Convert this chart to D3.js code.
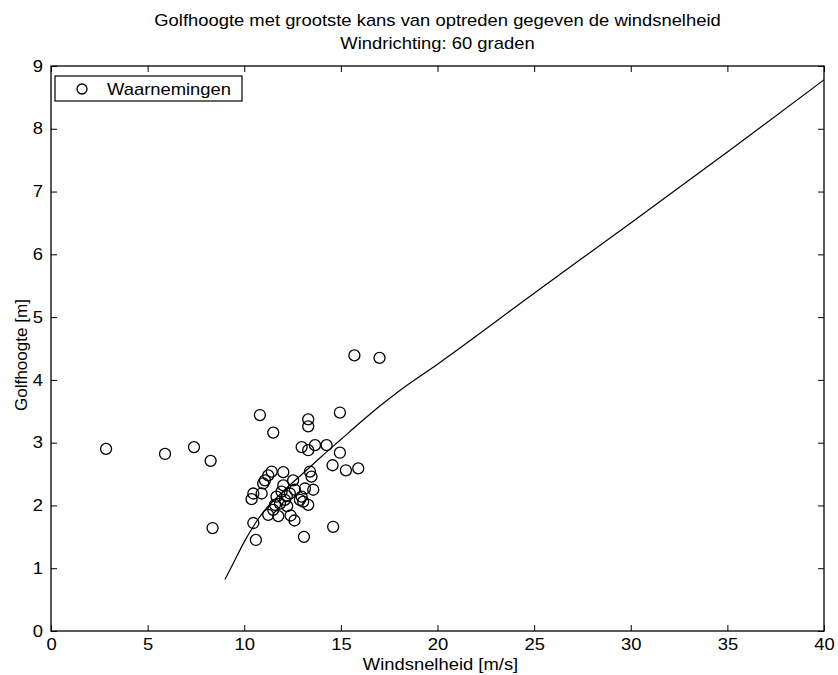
<!DOCTYPE html>
<html>
<head>
<meta charset="utf-8">
<script src="https://cdn.jsdelivr.net/npm/d3@7/dist/d3.min.js"></script>
<style>
  body { margin: 0; background: #fff; }
  svg { display: block; }
  text { font-family: "Liberation Sans", Arial, Helvetica, sans-serif; fill: #000; }
</style>
</head>
<body>
<svg id="chart" width="838" height="675"></svg>
<script>
// ---- data ----
const titleLines = ["Golfhoogte met grootste kans van optreden gegeven de windsnelheid", "Windrichting: 60 graden"];
const xLabel = "Windsnelheid [m/s]";
const yLabel = "Golfhoogte [m]";
const legendLabel = "Waarnemingen";
const xTicks = [0, 5, 10, 15, 20, 25, 30, 35, 40];
const yTicks = [0, 1, 2, 3, 4, 5, 6, 7, 8, 9];

// observations: [wind speed, wave height]
const observations = [
  [2.85, 2.90], [5.9, 2.82], [7.4, 2.93], [8.26, 2.71], [8.36, 1.64],
  [10.81, 3.44], [13.31, 3.37], [13.31, 3.26], [14.95, 3.48], [11.5, 3.16],
  [15.7, 4.39], [17.0, 4.35],
  [12.97, 2.93], [13.31, 2.88], [13.66, 2.96], [14.26, 2.96], [14.95, 2.84],
  [14.57, 2.64], [15.26, 2.56], [15.9, 2.59],
  [13.4, 2.54], [13.48, 2.46], [13.57, 2.25], [13.14, 2.27], [12.53, 2.40],
  [12.62, 2.25], [12.97, 2.14], [13.05, 2.06], [13.31, 2.01], [12.36, 2.19],
  [12.02, 2.53], [11.42, 2.54], [11.24, 2.48], [11.07, 2.40], [10.98, 2.35],
  [10.47, 2.19], [10.38, 2.10], [10.9, 2.19], [12.02, 2.32], [11.67, 2.14],
  [11.93, 2.22], [12.1, 2.09], [11.59, 2.01], [11.5, 1.93], [11.85, 2.03],
  [12.22, 1.99], [12.2, 2.15], [12.88, 2.09],
  [12.4, 1.84], [12.6, 1.76], [14.6, 1.66], [13.09, 1.50], [10.47, 1.72],
  [10.6, 1.45], [11.24, 1.85], [11.76, 1.83]
];

// most probable wave height curve: [wind speed, wave height]
const modeCurve = [
  [9.0, 0.82], [9.5, 1.12], [10.0, 1.42], [10.5, 1.68], [11.0, 1.90],
  [12.0, 2.22], [13.0, 2.50], [14.0, 2.78], [15.0, 3.05], [16.0, 3.32],
  [17.0, 3.58], [18.0, 3.82], [20.0, 4.25], [25.0, 5.38], [30.0, 6.50],
  [35.0, 7.63], [40.0, 8.78]
];

// ---- layout ----
const plot = { left: 51, right: 824, top: 66, bottom: 631 };
const fs = 16;          // font size
const sx = 1.15;        // horizontal stretch of the scanned lettering

const svg = d3.select("#chart");
const x = d3.scaleLinear().domain([0, 40]).range([plot.left, plot.right]);
const y = d3.scaleLinear().domain([0, 9]).range([plot.bottom, plot.top]);

// title
svg.selectAll("text.title").data(titleLines).join("text")
  .attr("class", "title")
  .attr("transform", (d, i) => `translate(${(plot.left + plot.right) / 2},${26 + i * 23}) scale(${sx},1)`)
  .attr("text-anchor", "middle")
  .style("font-size", fs + "px")
  .text(d => d);

// axes with inward ticks
const tickLen = 6;
function styleAxis(g) {
  g.select(".domain").remove();
  g.selectAll(".tick line").attr("stroke", "#000").attr("stroke-width", 1);
  g.selectAll(".tick text")
    .style("font-size", fs + "px")
    .style("font-family", "'Liberation Sans', Arial, sans-serif")
    .attr("fill", "#000")
    .attr("transform", `scale(${sx},1)`);
}
svg.append("g").attr("transform", `translate(0,${plot.bottom})`)
  .call(d3.axisBottom(x).tickValues(xTicks).tickFormat(d3.format("d")).tickSizeInner(-tickLen).tickSizeOuter(0).tickPadding(8))
  .call(styleAxis);
svg.append("g").attr("transform", `translate(0,${plot.top})`)
  .call(d3.axisTop(x).tickValues(xTicks).tickFormat("").tickSizeInner(-tickLen).tickSizeOuter(0))
  .call(styleAxis);
svg.append("g").attr("transform", `translate(${plot.left},0)`)
  .call(d3.axisLeft(y).tickValues(yTicks).tickFormat(d3.format("d")).tickSizeInner(-tickLen).tickSizeOuter(0).tickPadding(7))
  .call(styleAxis);
svg.append("g").attr("transform", `translate(${plot.right},0)`)
  .call(d3.axisRight(y).tickValues(yTicks).tickFormat("").tickSizeInner(-tickLen).tickSizeOuter(0))
  .call(styleAxis);

// frame
svg.append("rect")
  .attr("x", plot.left).attr("y", plot.top)
  .attr("width", plot.right - plot.left).attr("height", plot.bottom - plot.top)
  .attr("fill", "none").attr("stroke", "#000").attr("stroke-width", 1.3);

// axis labels
svg.append("text")
  .attr("transform", `translate(${(plot.left + plot.right) / 2 + 3},670) scale(${sx},1)`)
  .attr("text-anchor", "middle").style("font-size", fs + "px")
  .text(xLabel);
svg.append("text")
  .attr("transform", `translate(27,355) rotate(-90) scale(1.07,1)`)
  .attr("text-anchor", "middle").style("font-size", fs + "px")
  .text(yLabel);

// curve
const line = d3.line().x(d => x(d[0])).y(d => y(d[1])).curve(d3.curveMonotoneX);
svg.append("path").datum(modeCurve)
  .attr("d", line).attr("fill", "none").attr("stroke", "#000").attr("stroke-width", 1.2);

// observations
svg.append("g").selectAll("circle").data(observations).join("circle")
  .attr("cx", d => x(d[0])).attr("cy", d => y(d[1])).attr("r", 5.5)
  .attr("fill", "none").attr("stroke", "#000").attr("stroke-width", 1.3);

// legend
const lg = svg.append("g");
lg.append("rect").attr("x", 55).attr("y", 76).attr("width", 187).attr("height", 25)
  .attr("fill", "#fff").attr("stroke", "#000").attr("stroke-width", 1.2);
lg.append("circle").attr("cx", 82).attr("cy", 89).attr("r", 5)
  .attr("fill", "none").attr("stroke", "#000").attr("stroke-width", 1.3);
lg.append("text").attr("transform", `translate(107,95) scale(${sx},1)`)
  .style("font-size", fs + "px").text(legendLabel);
</script>
</body>
</html>
